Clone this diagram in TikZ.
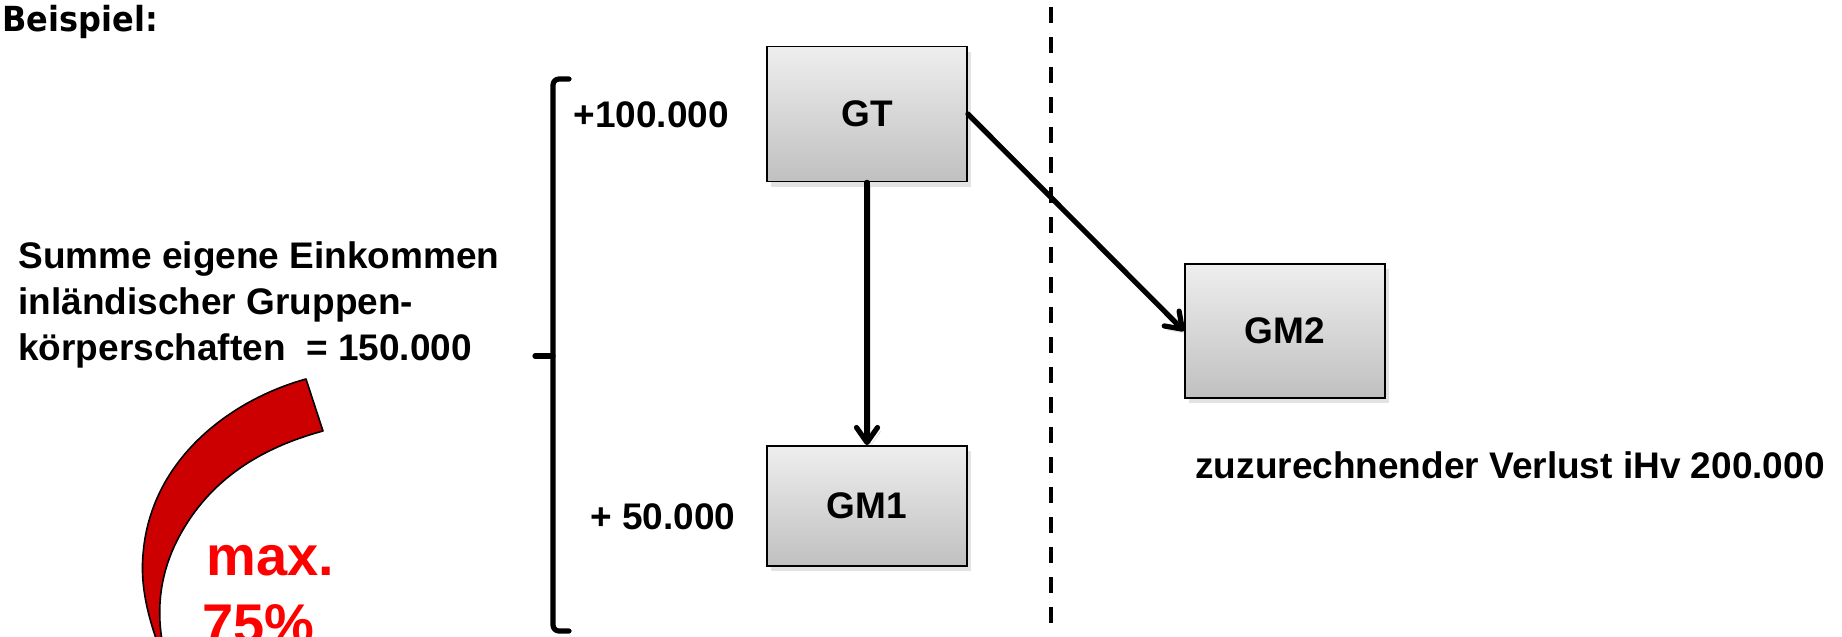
\documentclass[tikz,border=0pt]{standalone}
\usepackage{fontspec}
\setmainfont{Liberation Sans}
\newfontfamily\headfont{DejaVu Sans}
\usetikzlibrary{arrows.meta,shadows}

\definecolor{boxtop}{HTML}{EEEEEE}
\definecolor{boxbot}{HTML}{C0C0C0}
\definecolor{arcred}{HTML}{CC0000}
\definecolor{maxred}{HTML}{FF0000}

\begin{document}
\begin{tikzpicture}[x=0.5pt,y=-0.5pt,
  every node/.style={inner sep=0pt},
  txt/.style={font=\bfseries\fontsize{18.5}{23}\selectfont, anchor=base west},
  entity/.style={draw=black, line width=0.9pt, top color=boxtop, bottom color=boxbot,
    minimum width=100pt, font=\bfseries\fontsize{18.5}{23}\selectfont,
    drop shadow={shadow xshift=2pt, shadow yshift=-2.5pt, opacity=0.22}},
  link/.style={line width=2.6pt, line cap=round,
    -{Straight Barb[length=7.5pt,width=10.5pt,round]},
    preaction={draw=black, opacity=0.12, transform canvas={xshift=1.5pt,yshift=-2pt}}},
  bracket/.style={line width=2.6pt, line cap=round, rounded corners=3pt},
  divider/.style={line width=2.2pt, dash pattern=on 8pt off 7pt}
]
\useasboundingbox (0,0) rectangle (1842,637);
\clip (0,0) rectangle (1842,637);

% heading
\node[anchor=base west, font=\headfont\bfseries\fontsize{16}{19}\selectfont] (head) at (2,32) {\scalebox{1}[1.08]{Beispiel:}};

% sum of domestic incomes
\node[txt] (sum1) at (18,268) {Summe eigene Einkommen};
\node[txt] (sum2) at (18,314) {inländischer Gruppen-};
\node[txt] (sum3) at (18,360) {körperschaften \ = 150.000};

% bracket spanning both domestic incomes
\coordinate (bt) at (569,79);
\coordinate (bb) at (569,631);
\coordinate (bm) at (535,356);
\draw[bracket] (bt) -- (553,79) -- (553,631) -- (bb);
\draw[bracket, rounded corners=0pt] (bm) -- (553,356);

% group members
\node[entity, minimum height=67.5pt] (GT) at (867,114) {GT};
\node[entity, minimum height=60pt] (GM1) at (867,506) {\raisebox{-4.5pt}{GM1}};
\node[entity, minimum height=67pt] (GM2) at (1285,331) {\raisebox{-3.5pt}{GM2}};

\node[txt] (inc1) at (573,127) {+100.000};
\node[txt] (inc2) at (590,529) {+ 50.000};
\node[txt] (loss) at (1195,478) {zuzurechnender Verlust iHv 200.000};

% border between domestic and foreign members
\coordinate (dtop) at (1051,7);
\coordinate (dbot) at (1051,637);
\draw[divider] (dtop) -- (dbot);

% participations
\draw[link] (GT.south) -- (GM1.north);
\draw[link] (GT.east) -- (GM2.west);

% red curved marker with limit
\filldraw[fill=arcred, draw=black, line width=0.8pt, line join=round]
  (306,379) .. controls (230,400) and (150,460) .. (143,555)
  .. controls (140,590) and (150,622) .. (160,650)
  -- (164,650)
  .. controls (156,615) and (158,575) .. (180,535)
  .. controls (210,480) and (260,448) .. (323,431) -- cycle;
\node[anchor=base west, text=maxred, font=\bfseries\fontsize{28}{34}\selectfont] (lim1) at (206,575) {max.};
\node[anchor=base west, text=maxred, font=\bfseries\fontsize{28}{34}\selectfont] (lim2) at (202,643) {75\%};
\end{tikzpicture}
\end{document}
